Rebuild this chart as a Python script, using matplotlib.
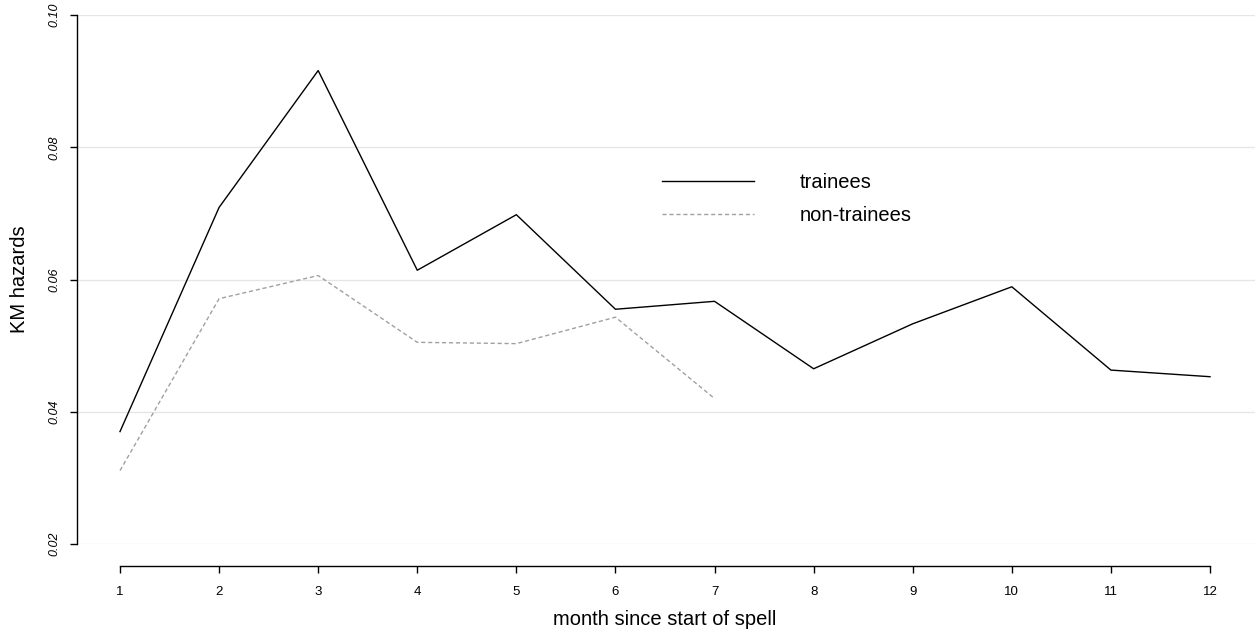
import matplotlib
matplotlib.use('Agg')
import matplotlib.pyplot as plt
import numpy as np

plt.rcParams['font.family'] = ['Liberation Sans', 'DejaVu Sans']

months = [1, 2, 3, 4, 5, 6, 7, 8, 9, 10, 11, 12]
trainees = [0.0370, 0.0709, 0.0916, 0.0614, 0.0698, 0.0555, 0.0567,
            0.0465, 0.0533, 0.0589, 0.0463, 0.0453]
non_months = [1, 2, 3, 4, 5, 6, 7]
non_trainees = [0.0311, 0.0571, 0.0606, 0.0505, 0.0503, 0.0543, 0.0420]
yticks = [0.02, 0.04, 0.06, 0.08, 0.10]

W, H = 1255, 637
fig = plt.figure(figsize=(W / 100, H / 100), dpi=100)
# axes box in pixels: left=77, right=1255, top=15, bottom=544
ax = fig.add_axes([77 / W, 1 - 544 / H, (1255 - 77) / W, (544 - 15) / H])

step = (1210 - 120) / 11
ax.set_xlim(1 - 43 / step, 12 + 45 / step)
ax.set_ylim(0.02, 0.10)

for yv in yticks:
    ax.axhline(yv, color='#e6e6e6', lw=1, zorder=0)

ax.plot(months, trainees, color='black', lw=1, label='trainees')
ax.plot(non_months, non_trainees, color='#a0a0a0', lw=1,
        linestyle=(0, (3, 2)), label='non-trainees')

for s in ['top', 'right']:
    ax.spines[s].set_visible(False)
ax.spines['left'].set_bounds(0.02, 0.10)
ax.spines['bottom'].set_bounds(1, 12)
ax.spines['bottom'].set_position(('outward', 16))
ax.spines['left'].set_linewidth(1)
ax.spines['bottom'].set_linewidth(1)

ax.set_xticks(months)
ax.set_xticklabels([str(m) for m in months], fontsize=9.5)
ax.set_yticks(yticks)
ax.set_yticklabels(['%.2f' % v for v in yticks], fontsize=9, rotation=90,
                   style='italic', va='center')
ax.tick_params(axis='both', length=5, width=1)
ax.tick_params(axis='x', pad=9)
ax.tick_params(axis='y', pad=7)

ax.set_xlabel('month since start of spell', fontsize=14.5)
ax.xaxis.set_label_coords((120 + 1210) / 2 / W, 1 - 610 / H,
                          transform=fig.transFigure)
ax.set_ylabel('KM hazards', fontsize=14.5)
ax.yaxis.set_label_coords(29 / W, 1 - 279 / H, transform=fig.transFigure)

leg = ax.legend(loc='upper left', frameon=False, fontsize=14.5,
                handlelength=4.57, handletextpad=2.29, labelspacing=0.7,
                borderpad=0, borderaxespad=0)
leg.set_bbox_to_anchor((662 / W, 1 - 173 / H), transform=fig.transFigure)

fig.set_facecolor('white')
plt.savefig('out.png', dpi=100, facecolor=fig.get_facecolor())
